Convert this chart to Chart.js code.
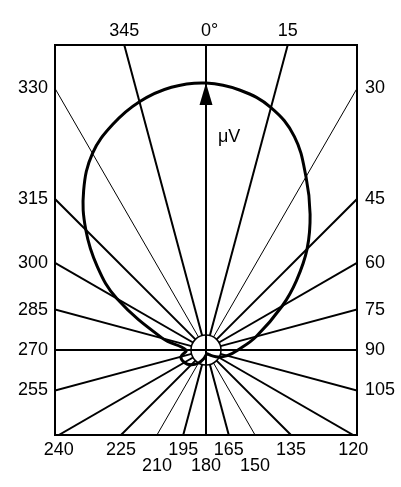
<!DOCTYPE html>
<html>
<head>
<meta charset="utf-8">
<script src="https://cdn.jsdelivr.net/npm/chart.js@4.4.1/dist/chart.umd.min.js"></script>
<style>
    body { margin: 0; background: #fff; }
</style>
</head>
<body>
<canvas id="polar" width="401" height="487"></canvas>
<script>
// ray directions, degrees clockwise from the top, and their labels
var ray_angles = [0, 15, 30, 45, 60, 75, 90, 105, 120, 135, 150, 165, 180, 195, 210, 225, 240, 255, 270, 285, 300, 315, 330, 345];
var ray_labels = ['0°', '15', '30', '45', '60', '75', '90', '105', '120', '135', '150', '165', '180', '195', '210', '225', '240', '255', '270', '285', '300', '315', '330', '345'];

// pattern (angle in degrees, amplitude)
var pattern_angles = [0, 7.5, 15, 22.5, 30, 37.5, 45, 52.5, 60, 75, 90, 105, 120, 135, 150, 165, 180, 195, 210, 225, 240, 255, 270, 285, 300, 307.5, 315, 322.5, 330, 337.5, 345, 352.5];
var pattern_values = [267, 262, 251, 231, 200, 171, 143, 114, 88, 52, 32, 22, 14, 8, 5, 4, 5, 9, 15, 21, 25, 26, 20, 45, 103, 137, 170, 201, 227, 244, 257, 265];

var unit_label = 'μV';

var x_min = -151, x_max = 151, y_min = -85, y_max = 305;
var hub_radius = 15;
var label_font = '18px "Liberation Sans", Arial, sans-serif';

function toXY(angle, r) {
    var a = angle * Math.PI / 180;
    return { x: r * Math.sin(a), y: r * Math.cos(a) };
}

// distance from the centre to the frame along a ray
function edgeDist(angle) {
    var a = angle * Math.PI / 180;
    var s = Math.sin(a), c = Math.cos(a);
    var t = Infinity;
    if (s > 1e-9) t = Math.min(t, x_max / s);
    if (s < -1e-9) t = Math.min(t, x_min / s);
    if (c > 1e-9) t = Math.min(t, y_max / c);
    if (c < -1e-9) t = Math.min(t, y_min / c);
    return t;
}

var datasets = [];

ray_angles.forEach(function (a) {
    var through = a % 90 === 0;
    var thin = a % 30 === 0 && a % 60 !== 0 && !through;
    datasets.push({
        data: [toXY(a, through ? 0 : hub_radius), toXY(a, edgeDist(a))],
        showLine: true,
        borderColor: '#000',
        borderWidth: thin ? 1 : 2,
        pointRadius: 0,
        order: 2
    });
});

// start/close the loop at the back (hidden in the hub) so the top stays smooth
var curve = pattern_angles.map(function (a, i) { return toXY(a, pattern_values[i]); });
var start = pattern_angles.indexOf(180);
curve = curve.slice(start).concat(curve.slice(0, start + 1));
datasets.push({
    data: curve,
    showLine: true,
    borderColor: '#000',
    borderWidth: 3,
    pointRadius: 0,
    tension: 0.4,
    order: 1
});

var frame_plugin = {
    id: 'frame',
    afterDatasetsDraw: function (chart) {
        var ctx = chart.ctx;
        var area = chart.chartArea;
        var xs = chart.scales.x, ys = chart.scales.y;
        var cx = xs.getPixelForValue(0), cy = ys.getPixelForValue(0);
        ctx.save();
        ctx.strokeStyle = '#000';
        ctx.fillStyle = '#000';

        // hub circle
        ctx.lineWidth = 1.5;
        ctx.beginPath();
        ctx.arc(cx, cy, xs.getPixelForValue(hub_radius) - cx, 0, 2 * Math.PI);
        ctx.stroke();

        // arrow at the top of the pattern
        var tipY = ys.getPixelForValue(pattern_values[0]);
        var baseY = ys.getPixelForValue(pattern_values[0] - 22);
        ctx.beginPath();
        ctx.moveTo(cx, tipY);
        ctx.lineTo(cx - 6.5, baseY);
        ctx.lineTo(cx + 6.5, baseY);
        ctx.closePath();
        ctx.fill();

        // frame
        ctx.lineWidth = 2;
        ctx.strokeRect(area.left, area.top, area.right - area.left, area.bottom - area.top);

        ctx.font = label_font;
        ctx.textBaseline = 'middle';

        ctx.textAlign = 'left';
        ctx.fillText(unit_label, xs.getPixelForValue(12), ys.getPixelForValue(213));

        ray_angles.forEach(function (a, i) {
            var p = toXY(a, edgeDist(a));
            var px = xs.getPixelForValue(p.x), py = ys.getPixelForValue(p.y);
            var txt = ray_labels[i];
            if (Math.abs(py - area.bottom) < 1) {
                ctx.textAlign = 'center';
                var lower = a % 30 === 0 && Math.abs(a - 180) <= 30;
                var shift = 0;
                if (Math.abs(px - area.left) < 1) shift = -4;
                if (Math.abs(px - area.right) < 1) shift = 4;
                ctx.fillText(txt, px + shift, area.bottom + (lower ? 31 : 15));
            } else if (Math.abs(py - area.top) < 1) {
                if (a === 0) {
                    ctx.textAlign = 'left';
                    ctx.fillText(txt, px - ctx.measureText('0').width / 2, area.top - 14);
                } else {
                    ctx.textAlign = 'center';
                    ctx.fillText(txt, px, area.top - 14);
                }
            } else if (Math.abs(px - area.left) < 1) {
                ctx.textAlign = 'right';
                ctx.fillText(txt, area.left - 7, py);
            } else {
                ctx.textAlign = 'left';
                ctx.fillText(txt, area.right + 8, py);
            }
        });
        ctx.restore();
    }
};

new Chart(document.getElementById('polar'), {
    type: 'scatter',
    data: { datasets: datasets },
    options: {
        responsive: false,
        animation: false,
        events: [],
        layout: { padding: { left: 55, right: 44, top: 45, bottom: 52 } },
        plugins: { legend: { display: false }, tooltip: { enabled: false } },
        scales: {
            x: { type: 'linear', min: x_min, max: x_max, display: false },
            y: { type: 'linear', min: y_min, max: y_max, display: false }
        }
    },
    plugins: [frame_plugin]
});
</script>
</body>
</html>
